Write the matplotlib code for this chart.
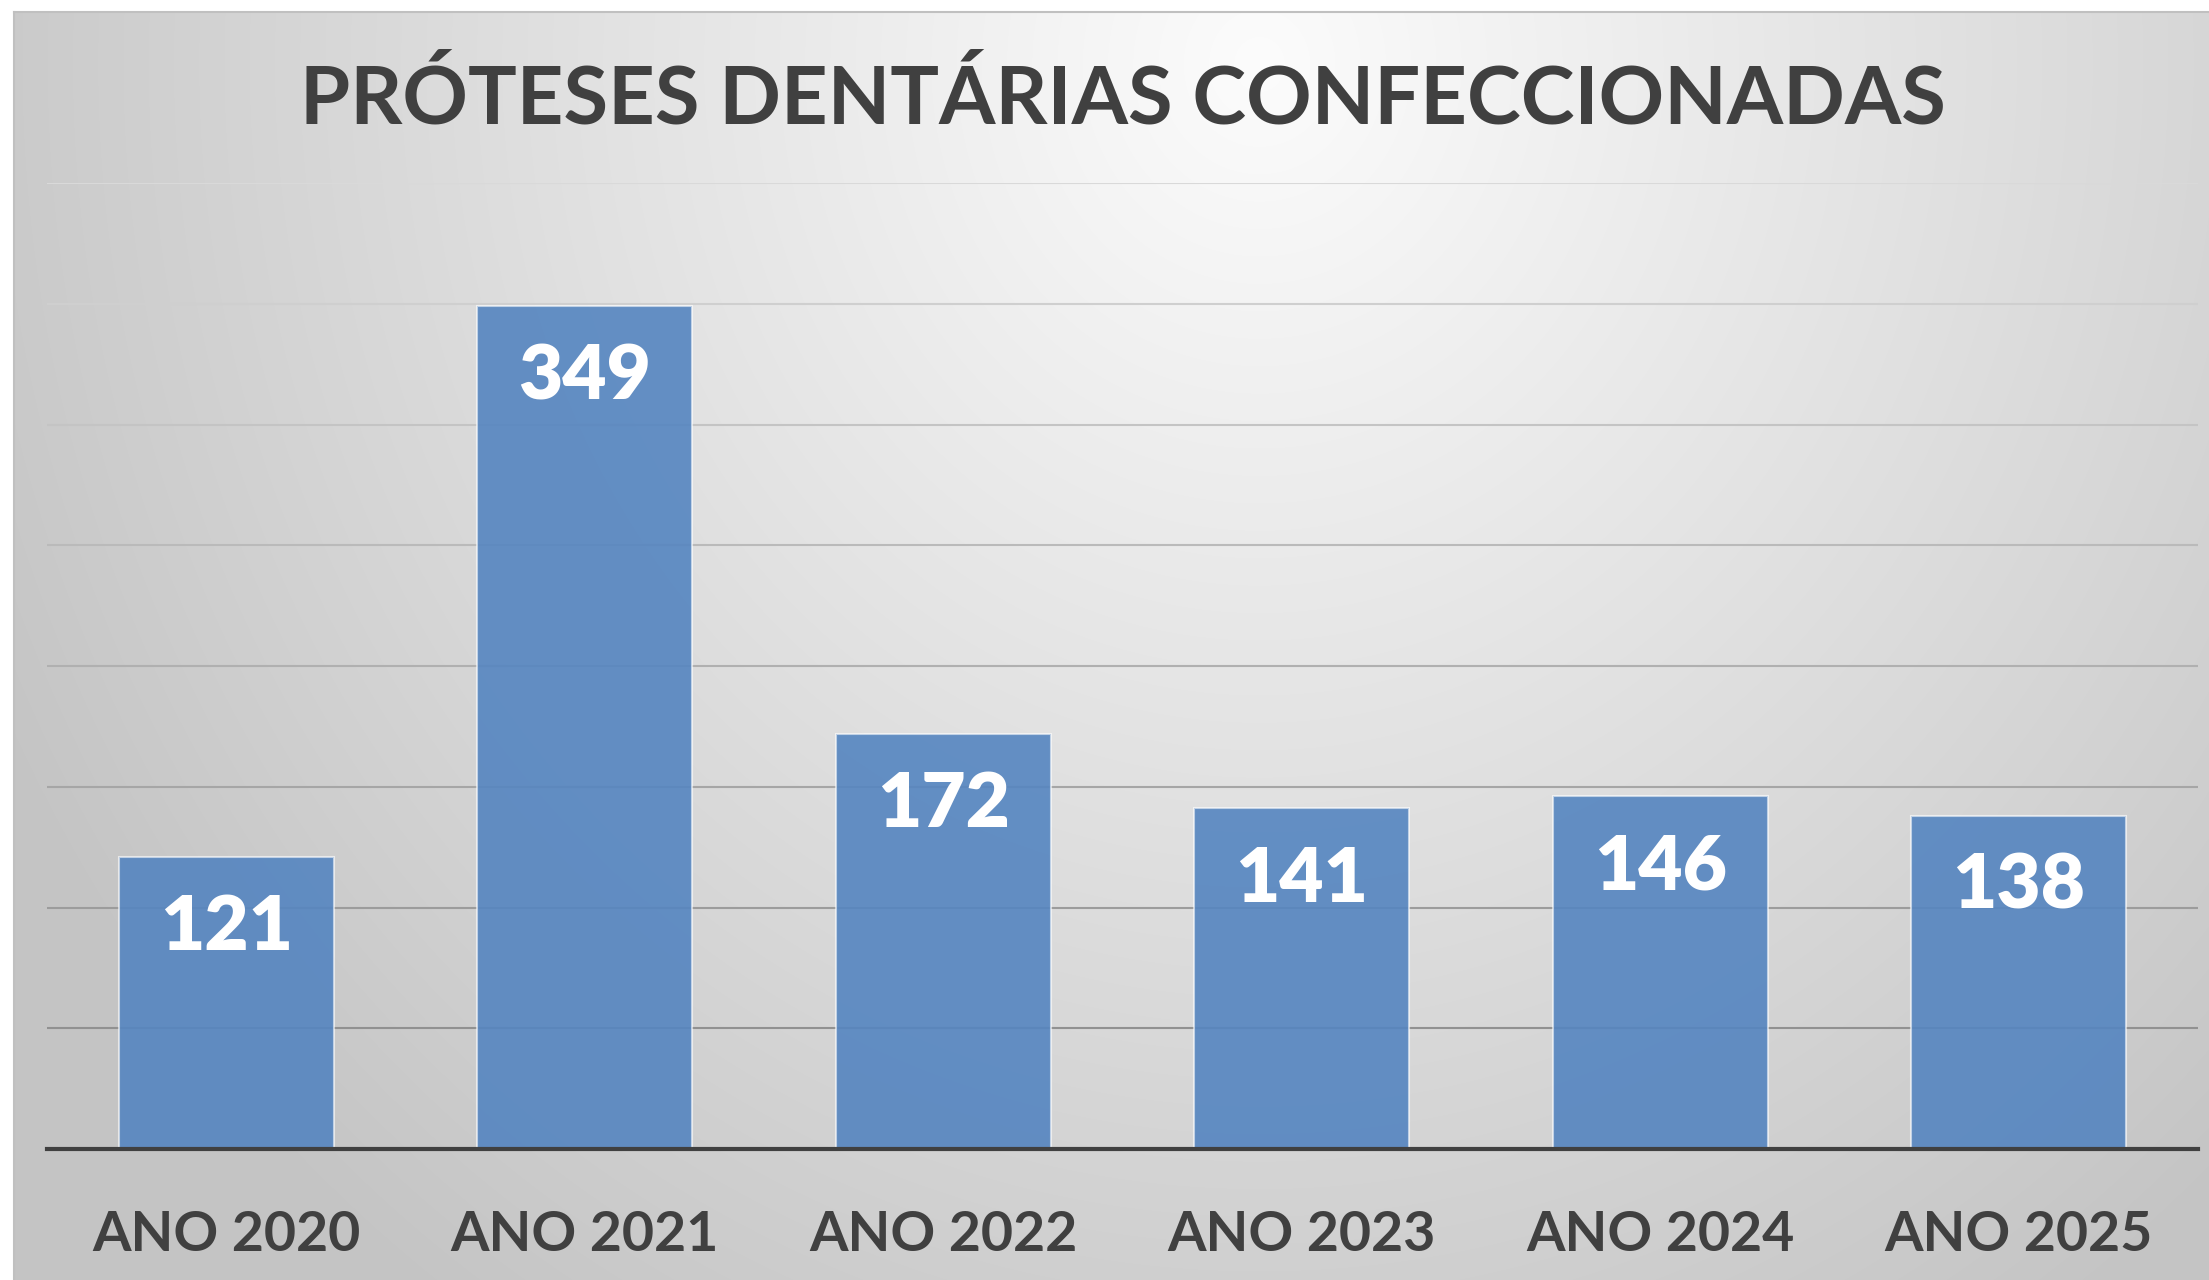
import numpy as np
import matplotlib
matplotlib.use("Agg")
import matplotlib.pyplot as plt

categorias = ["ANO 2020", "ANO 2021", "ANO 2022", "ANO 2023", "ANO 2024", "ANO 2025"]
proteses = [121, 349, 172, 141, 146, 138]
titulo = "PRÓTESES DENTÁRIAS CONFECCIONADAS"

plt.rcParams['font.family'] = ['Lato', 'DejaVu Sans']

W, H = 2209, 1280
fig = plt.figure(figsize=(W / 100, H / 100), dpi=100)
fig.patch.set_facecolor('white')

# fundo com gradiente radial (claro no topo ao centro, cinza nos cantos)
bg = fig.add_axes([0, 0, 1, 1], zorder=-10)
yy, xx = np.mgrid[0:H, 0:W]
cx, cy = 0.57 * W, 0.05 * H
d = np.sqrt(((xx - cx) / (0.64 * W)) ** 2 + ((yy - cy) / (1.2 * H)) ** 2)
v = 252 - (252 - 196) * np.clip(d, 0, 1)
img = np.dstack([v, v, v]) / 255.0
img[:12, :, :] = 1.0
img[:, :14, :] = 1.0
bg.imshow(img, aspect='auto', interpolation='bilinear', extent=(0, W, H, 0))
bg.plot([14, W], [12, 12], color='#c0c0c0', lw=1.5)
bg.plot([14, 14], [12, H], color='#c0c0c0', lw=1.5)
bg.set_xlim(0, W)
bg.set_ylim(H, 0)
bg.axis('off')

ax = fig.add_axes([47 / W, 1 - 1149 / H, (2198 - 47) / W, (1149 - 183) / H])
ax.patch.set_alpha(0)

x = np.arange(len(categorias))
bars = ax.bar(x, proteses, width=0.6, color=(85 / 255, 133 / 255, 192 / 255, 0.9),
              edgecolor=(1, 1, 1, 0.6), linewidth=1.5, zorder=3)

for i, val in enumerate(proteses):
    ax.annotate(str(val), (i, val), xytext=(0, -67), textcoords='offset points',
                ha='center', va='baseline', color='white', fontsize=55,
                fontweight='heavy', zorder=5)

ax.set_xlim(-0.5, len(categorias) - 0.5)
ax.set_ylim(0, 400)
ax.set_yticks(range(0, 401, 50))
ax.set_yticklabels([])
ax.set_xticks(x)
ax.set_xticklabels(categorias, fontsize=40, fontweight='bold', color='#404040')
ax.tick_params(axis='both', length=0)
ax.tick_params(axis='x', pad=44)

ax.grid(True, axis='y', zorder=1)
for gl, t in zip(ax.yaxis.get_gridlines(), ax.get_yticks()):
    f = t / 400.0
    c = (0.53 + 0.32 * f)
    gl.set_color((c, c, c))
    gl.set_linewidth(1.5)

for s in ['top', 'right', 'left']:
    ax.spines[s].set_visible(False)
ax.spines['bottom'].set_color('#404040')
ax.spines['bottom'].set_linewidth(3)
ax.spines['bottom'].set_zorder(4)

fig.text((47 + 2198) / 2 / W, 1 - 123 / H, titulo, ha='center', va='baseline',
         fontsize=58.5, fontweight='bold', color='#404040')

fig.savefig('out.png', dpi=100)
